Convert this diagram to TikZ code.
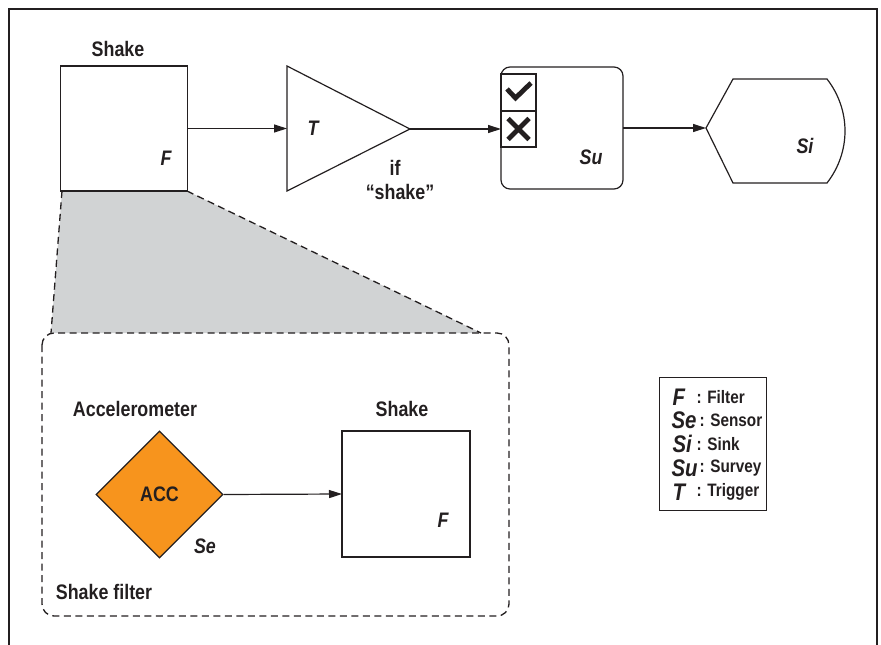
\documentclass[tikz,border=0pt]{standalone}
\usepackage{fontspec}
\setmainfont{Liberation Sans}[FakeStretch=0.85]
\usetikzlibrary{arrows.meta,shapes.geometric}
\definecolor{ink}{HTML}{231F20}
\definecolor{graybg}{HTML}{D1D3D4}
\definecolor{accorange}{HTML}{F7941D}
\begin{document}
\begin{tikzpicture}[x=1pt,y=-1pt,
  line width=1.2pt, draw=ink, text=ink,
  lbl/.style={font=\fontsize{21}{24}\selectfont\bfseries, inner sep=0pt},
  sym/.style={font=\fontsize{21}{24}\selectfont\bfseries\itshape, inner sep=0pt},
  leg/.style={font=\fontsize{18}{20}\selectfont\bfseries, inner sep=0pt, anchor=west},
  legsym/.style={font=\fontsize{24}{26}\selectfont\bfseries\itshape, inner sep=0pt, anchor=west},
  blk/.style={draw=ink, rectangle, inner sep=0pt, outer sep=0pt},
  dsh/.style={draw=ink, line width=1.3pt, dash pattern=on 7pt off 4.5pt},
  arr/.style={-{Triangle[length=13pt,width=8pt]}, draw=ink}
]
\useasboundingbox (0,0) rectangle (881,645);
% outer frame
\draw (9,645) -- (9,9) -- (877,9) -- (877,645);

% zoom wedge
\coordinate (gtl) at (62,191);
\coordinate (gtr) at (187,191);
\coordinate (gbl) at (51,333);
\coordinate (gbr) at (481,333);
\fill[graybg] (gtl) -- (gtr) -- (gbr) -- (gbl) -- cycle;
\draw[dsh] (gtl) -- (gbl);
\draw[dsh] (gtr) -- (gbr);

% dashed filter container
\draw[dsh, rounded corners=12pt] (42,333) rectangle (509,616);

% top Shake filter
\node[blk, minimum width=127pt, minimum height=125pt] (shake1) at (124,128.5) {};
\node[lbl] (shake1lbl) at (118,49) {Shake};
\node[sym] (shake1f) at (166,158) {F};

% trigger triangle
\coordinate (tA) at (287,66);
\coordinate (tB) at (287,191);
\coordinate (tC) at (410,129);
\coordinate (tin) at (287,128.5);
\draw[line join=miter] (tA) -- (tC) -- (tB) -- cycle;
\node[sym] (tlbl) at (313,128) {T};
\node[lbl] (if1) at (395,168) {if};
\node[lbl] (if2) at (400,192) {“shake”};

\draw[arr] (shake1.east) -- (tin);

% survey
\node[blk, rounded corners=9pt, minimum width=122pt, minimum height=122pt] (su) at (562,128) {};
\node[blk, minimum width=35pt, minimum height=37pt] (chk) at (518.5,92.5) {};
\node[blk, minimum width=35pt, minimum height=36pt] (crs) at (518.5,129) {};
\draw[line width=4.8pt, line join=miter] (507,89) -- (515.5,98) -- (531,83);
\draw[line width=4.8pt] (508,118.5) -- (529,139.5) (529,118.5) -- (508,139.5);
\node[sym] (sulbl) at (591,157) {Su};
\draw[arr] (tC) -- (crs.west);

% sink
\coordinate (sk) at (706,128);
\coordinate (s1) at (733,79);
\coordinate (s2) at (827,79);
\coordinate (s3) at (827,183);
\coordinate (s4) at (733,183);
\draw[line join=miter] (sk) -- (s1) -- (s2) .. controls (851,110) and (851,152) .. (s3) -- (s4) -- cycle;
\node[sym] (silbl) at (805,146) {Si};
\draw[arr] (su.east) -- (sk);

% inside the filter
\node[diamond, draw=ink, fill=accorange, minimum width=127pt, minimum height=127pt, inner sep=0pt, font=\fontsize{21}{24}\selectfont\bfseries] (acc) at (159.5,494.5) {ACC};
\node[lbl] (acclbl) at (135,409) {Accelerometer};
\node[sym] (selbl) at (205,546) {Se};
\node[lbl] (sflbl) at (104,592) {Shake filter};

\node[blk, minimum width=128pt, minimum height=126pt] (shake2) at (406,494) {};
\node[lbl] (shake2lbl) at (402,409) {Shake};
\node[sym] (shake2f) at (443,520) {F};
\draw[arr] (acc.east) -- (shake2.west);

% legend
\node[blk, minimum width=107pt, minimum height=133pt] (legend) at (713,444) {};
\node[legsym] (lF) at (672,397) {F};
\node[legsym] (lSe) at (671,420) {Se};
\node[legsym] (lSi) at (672,444) {Si};
\node[legsym] (lSu) at (671,468) {Su};
\node[legsym] (lT) at (672,492) {T};
\node[leg] (tF) at (696,397) {: Filter};
\node[leg] (tSe) at (699,420) {: Sensor};
\node[leg] (tSi) at (696,444) {: Sink};
\node[leg] (tSu) at (699,468) {: Survey};
\node[leg] (tT) at (696,492) {: Trigger};
\end{tikzpicture}
\end{document}
